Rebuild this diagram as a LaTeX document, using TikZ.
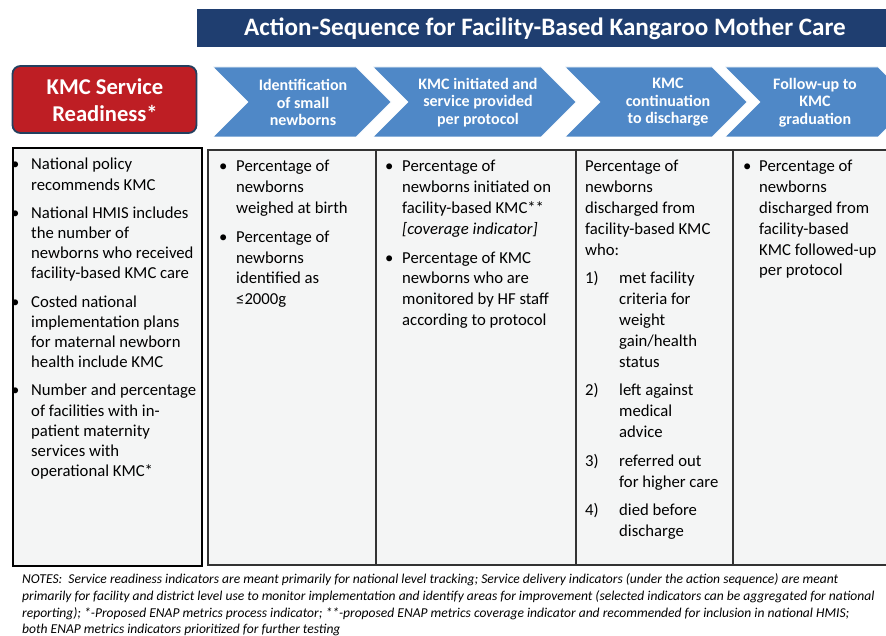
\documentclass[tikz,border=0pt]{standalone}
\usepackage{fontspec}
\setmainfont{Carlito}
\definecolor{titleblue}{HTML}{1F3E70}
\definecolor{kmcred}{HTML}{BE1E24}
\definecolor{redborder}{HTML}{23405F}
\definecolor{chevblue}{HTML}{4F88C7}
\definecolor{tablebg}{HTML}{F4F5F5}
\definecolor{gridline}{HTML}{333333}
\newcommand\bul[2]{\hangindent=#1\hangafter=1\noindent\makebox[#1][l]{•}#2}
\newcommand\numi[2]{\hangindent=34pt\hangafter=1\noindent\makebox[34pt][l]{#1}#2}
\newcommand\gapsep{\par\vspace{8pt}}
\newcommand\cellbox[2][20.8]{\parbox[t]{260pt}{\fontsize{16.7}{#1}\selectfont\raggedright\let\\\newline\parskip=0pt #2}}
\begin{document}
\begin{tikzpicture}[x=1pt,y=-1pt,
  chevron/.style={fill=chevblue, draw=white, line width=0.6pt},
  chevtext/.style={text=white, font=\fontsize{16}{17.5}\selectfont\bfseries, align=center, inner sep=0pt},
  celltext/.style={anchor=base west, inner sep=0pt},
  gridrule/.style={draw=gridline, line width=1.3pt}]
\useasboundingbox (0,0) rectangle (886,636);
\clip (0,0) rectangle (886,636);
\fill[white] (0,0) rectangle (886,636);

% title banner
\fill[titleblue] (197,9.5) rectangle (890,47);
\node[text=white, font=\fontsize{25.1}{27}\selectfont\bfseries, inner sep=0pt] (title) at (545,28.5)
  {Action-Sequence for Facility-Based Kangaroo Mother Care};

% readiness box
\node[draw=redborder, line width=1.8pt, fill=kmcred, rounded corners=8pt,
  minimum width=184pt, minimum height=67pt, inner sep=0pt] (ready) at (104.5,99.5) {};
\node[text=white, font=\fontsize{22.6}{27}\selectfont\bfseries, align=center, inner sep=0pt] (readytext) at (105,100)
  {KMC Service\\Readiness*};

% chevrons
\filldraw[chevron] (213,67) -- (356,67) -- (391,102) -- (356,137) -- (213,137) -- (248,102) -- cycle;
\filldraw[chevron] (373,67) -- (541,67) -- (576,102) -- (541,137) -- (373,137) -- (408,102) -- cycle;
\filldraw[chevron] (565,67) -- (712,67) -- (747,102) -- (712,137) -- (565,137) -- (600,102) -- cycle;
\filldraw[chevron] (725,67) -- (878,67) -- (913,102) -- (878,137) -- (725,137) -- (760,102) -- cycle;
\node[chevtext] (c1) at (303,102.5) {Identification\\of small\\newborns};
\node[chevtext] (c2) at (478,102.5) {KMC initiated and\\service provided\\per protocol};
\node[chevtext] (c3) at (668,102.5) {KMC\\continuation\\to discharge};
\node[chevtext] (c4) at (815,102.5) {Follow-up to\\KMC\\graduation};

% table
\filldraw[fill=tablebg, draw=black, line width=2.4pt] (13,148) rectangle (202,566);
\filldraw[fill=tablebg, gridrule] (208,150) rectangle (895,565);
\draw[gridrule] (376,150) -- (376,565);
\draw[gridrule] (576,150) -- (576,565);
\draw[gridrule] (733,150) -- (733,565);

\node[celltext] (t1) at (11,170) {\cellbox[20.2]{%
\bul{20pt}{National policy\\recommends KMC}\gapsep
\bul{20pt}{National HMIS includes\\the number of\\newborns who received\\facility-based KMC care}\gapsep
\bul{20pt}{Costed national\\implementation plans\\for maternal newborn\\health include KMC}\gapsep
\bul{20pt}{Number and percentage\\of facilities with in-\\patient maternity\\services with\\operational KMC*}}};

\node[celltext] (t2) at (219,172) {\cellbox{%
\bul{17pt}{Percentage of\\newborns\\weighed at birth}\gapsep
\bul{17pt}{Percentage of\\newborns\\identified as\\≤2000g}}};

\node[celltext] (t3) at (385,172) {\cellbox{%
\bul{17pt}{Percentage of\\newborns initiated on\\facility-based KMC**\\\textit{[coverage indicator]}}\gapsep
\bul{17pt}{Percentage of KMC\\newborns who are\\monitored by HF staff\\according to protocol}}};

\node[celltext] (t4) at (585,172) {\cellbox{%
\noindent Percentage of\\newborns\\discharged from\\facility-based KMC\\who:\gapsep
\numi{1)}{met facility\\criteria for\\weight\\gain/health\\status}\gapsep
\numi{2)}{left against\\medical\\advice}\gapsep
\numi{3)}{referred out\\for higher care}\gapsep
\numi{4)}{died before\\discharge}}};

\node[celltext] (t5) at (743,172) {\cellbox{%
\bul{16pt}{Percentage of\\newborns\\discharged from\\facility-based\\KMC followed-up\\per protocol}}};

% notes
\node[celltext] (notes) at (22,583.5) {\parbox[t]{1000pt}{\fontsize{13.55}{16.8}\selectfont\itshape\raggedright
NOTES:\ \ Service readiness indicators are meant primarily for national level tracking; Service delivery indicators (under the action sequence) are meant\\
primarily for facility and district level use to monitor implementation and identify areas for improvement (selected indicators can be aggregated for national\\
reporting); *-Proposed ENAP metrics process indicator; **-proposed ENAP metrics coverage indicator and recommended for inclusion in national HMIS;\\
both ENAP metrics indicators prioritized for further testing}};
\end{tikzpicture}
\end{document}
